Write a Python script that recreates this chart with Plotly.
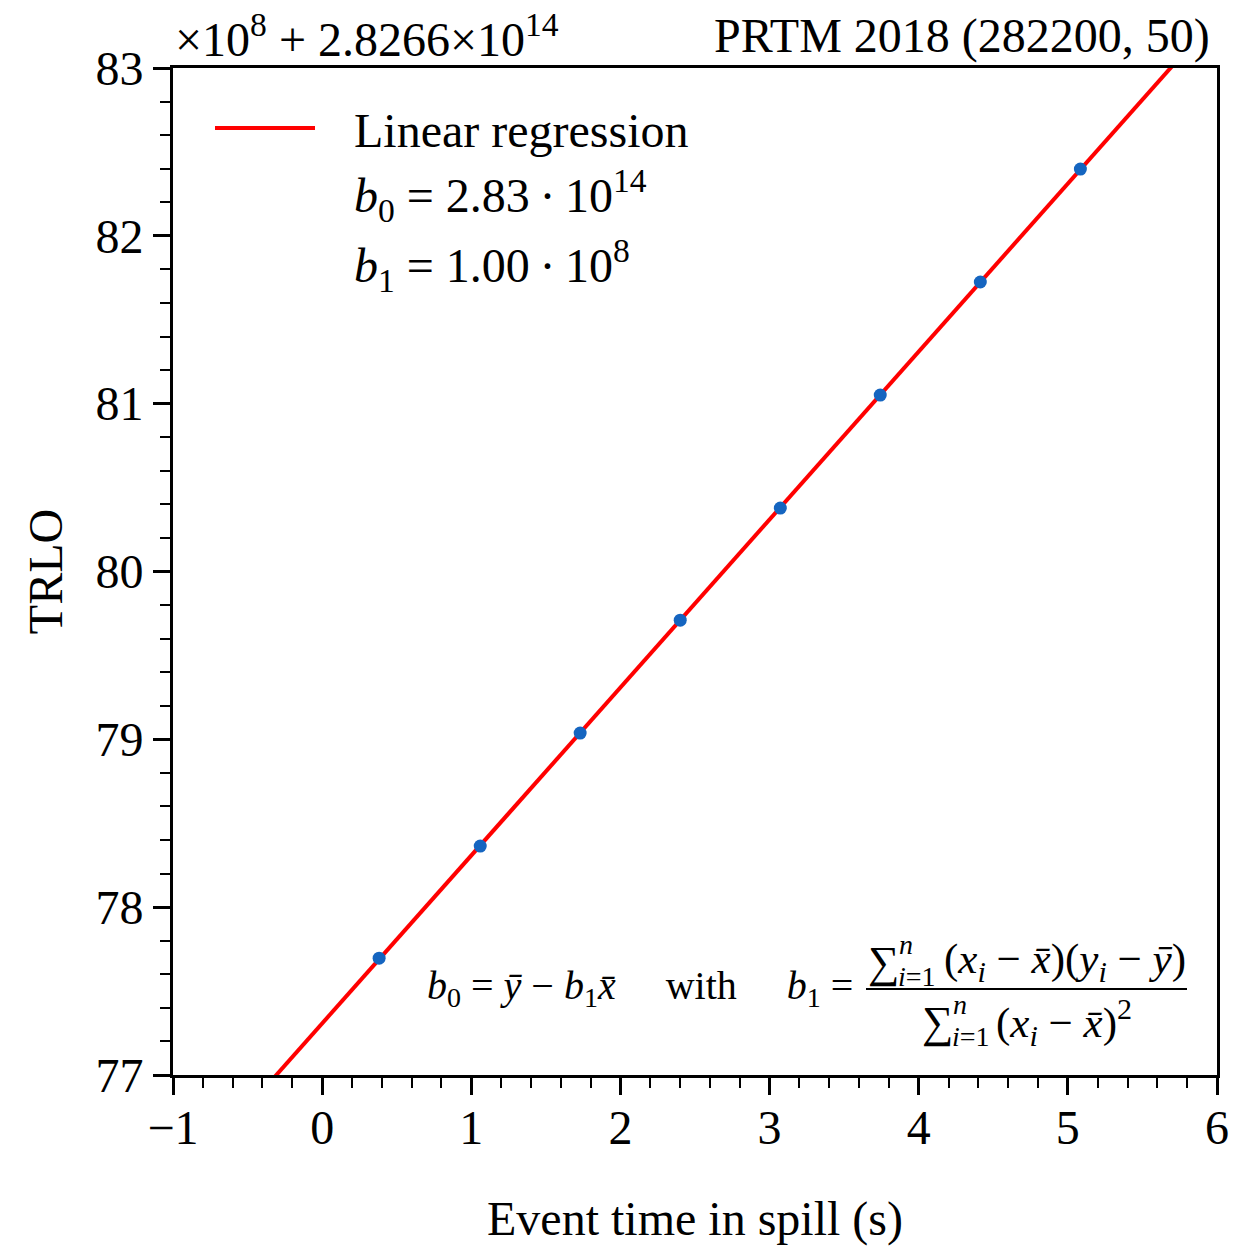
import numpy as np
import plotly.graph_objects as go

# Data (offset: value = y*1e8 + 2.8266e14)
event_time = [0.382, 1.060, 1.730, 2.401, 3.072, 3.742, 4.413, 5.084]
trlo = [77.696, 78.364, 79.037, 79.710, 80.378, 81.051, 81.725, 82.398]
x_ticks = [-1, 0, 1, 2, 3, 4, 5, 6]
y_ticks = [77, 78, 79, 80, 81, 82, 83]

FONT = "Liberation Serif"
W, H = 1236, 1246
L, R, T, B = 173, 1217, 68, 1075
FS = 48

def px(x):
    return (x - L) / (R - L)

def py(y):
    return (B - y) / (B - T)

slope, intercept = np.polyfit(event_time, trlo, 1)
line_x = np.array([-1.0, 6.0])
line_y = intercept + slope * line_x

fig = go.Figure()
fig.add_trace(go.Scatter(x=line_x, y=line_y, mode="lines",
                         line=dict(color="#ff0000", width=4), showlegend=False))
fig.add_trace(go.Scatter(x=event_time, y=trlo, mode="markers",
                         marker=dict(color="#1565c0", size=13), showlegend=False))

axis_common = dict(showline=True, linewidth=3, linecolor="black", mirror=True,
                   ticks="outside", ticklen=17, tickwidth=3, tickcolor="black",
                   showgrid=False, zeroline=False, automargin=False,
                   tickfont=dict(family=FONT, size=FS, color="black"))
minor = dict(dtick=0.2, ticks="outside", ticklen=10, tickwidth=2,
             tickcolor="black", showgrid=False)

fig.update_xaxes(range=[-1, 6], tickvals=x_ticks, **axis_common, minor=minor,
                 ticklabelstandoff=-9,
                 title=dict(text="Event time in spill (s)",
                            font=dict(family=FONT, size=FS, color="black"),
                            standoff=55))
fig.update_yaxes(range=[77, 83], tickvals=y_ticks, **axis_common, minor=minor,
                 title=dict(text="TRLO", font=dict(family=FONT, size=FS, color="black"),
                            standoff=18))

def A(text, x, y, size, xanchor="left"):
    return dict(text=text, x=px(x), y=py(y), xref="paper", yref="paper",
                xanchor=xanchor, yanchor="middle", showarrow=False,
                font=dict(family=FONT, size=size, color="black"))

ann = []
ann.append(A("×10<sup>8</sup> + 2.8266×10<sup>14</sup>", 173, 36, FS))
ann.append(A("PRTM 2018 (282200, 50)", 1212, 36, FS, "right"))
# legend
ann.append(A("Linear regression", 352, 130, FS))
ann.append(A("<i>b</i><sub>0</sub> = 2.83\u2009·\u200910<sup>14</sup>", 352, 195, FS))
ann.append(A("<i>b</i><sub>1</sub> = 1.00\u2009·\u200910<sup>8</sup>", 352, 265, FS))
# formula
FF = 40
ann.append(A("<i>b</i><sub>0</sub> = <i>ȳ</i> − <i>b</i><sub>1</sub><i>x̄</i>"
             "     with     <i>b</i><sub>1</sub> =", 425, 988, FF))
# numerator
ann.append(A("∑", 866, 962, 44))
ann.append(A("<i>n</i>", 906, 944, 28, "center"))
ann.append(A("<i>i</i>=1", 896, 976, 28))
ann.append(A("(<i>x<sub>i</sub></i> − <i>x̄</i>)(<i>y<sub>i</sub></i> − <i>ȳ</i>)", 942, 962, 43))
# denominator
ann.append(A("∑", 920, 1022, 44))
ann.append(A("<i>n</i>", 960, 1004, 28, "center"))
ann.append(A("<i>i</i>=1", 950, 1036, 28))
ann.append(A("(<i>x<sub>i</sub></i> − <i>x̄</i>)<sup>2</sup>", 994, 1022, 43))

shapes = [
    dict(type="line", xref="paper", yref="paper", x0=px(215), x1=px(315),
         y0=py(128), y1=py(128), line=dict(color="#ff0000", width=4)),
    dict(type="line", xref="paper", yref="paper", x0=px(866), x1=px(1187),
         y0=py(989), y1=py(989), line=dict(color="black", width=2)),
]

fig.update_layout(width=W, height=H, margin=dict(l=L, r=W - R, t=T, b=H - B),
                  plot_bgcolor="white", paper_bgcolor="white",
                  annotations=ann, shapes=shapes, showlegend=False,
                  font=dict(family=FONT, color="black"))

fig.write_html("out.html")
